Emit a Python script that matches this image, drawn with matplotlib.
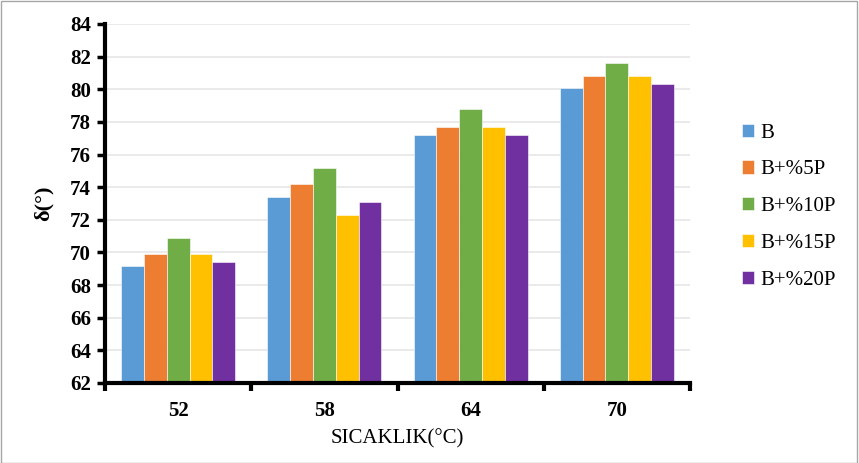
import numpy as np
import matplotlib
matplotlib.use("Agg")
import matplotlib.pyplot as plt
from matplotlib.patches import Rectangle

temperatures = ["52", "58", "64", "70"]
series_names = ["B", "B+%5P", "B+%10P", "B+%15P", "B+%20P"]
vals_b = [69.2, 73.4, 77.2, 80.1]
vals_5p = [69.9, 74.2, 77.7, 80.8]
vals_10p = [70.9, 75.2, 78.8, 81.6]
vals_15p = [69.9, 72.3, 77.7, 80.8]
vals_20p = [69.4, 73.1, 77.2, 80.3]
colors = ["#5B9BD5", "#ED7D31", "#70AD47", "#FFC000", "#7030A0"]

plt.rcParams["font.family"] = ["Liberation Serif", "DejaVu Serif"]

fig = plt.figure(figsize=(8.59, 4.63), dpi=100)
ax = fig.add_axes([105 / 859, 1 - 383 / 463, 585 / 859, 359 / 463])

series = [vals_b, vals_5p, vals_10p, vals_15p, vals_20p]
x = np.arange(len(temperatures))
bw = 0.156
offsets = (np.arange(5) - 2) * bw
for vals, name, c, off in zip(series, series_names, colors, offsets):
    ax.bar(x + off, vals, width=bw, color=c, label=name, zorder=3,
           edgecolor="white", linewidth=0.4)

ax.set_ylim(62, 84)
ax.set_yticks(np.arange(62, 85, 2))
ax.set_xlim(-0.5, len(temperatures) - 0.5)
ax.set_xticks(x)
ax.set_xticklabels(temperatures)
ax.set_xticks(np.arange(-0.5, len(temperatures), 1), minor=True)
ax.tick_params(axis="x", which="major", length=0, pad=13, labelsize=15)
ax.tick_params(axis="x", which="minor", length=6, width=3, direction="out")
ax.tick_params(axis="y", length=6, width=2.5, direction="out", labelsize=15, pad=4)
for lab in ax.get_xticklabels() + ax.get_yticklabels():
    lab.set_fontweight("bold")

ax.grid(axis="y", color="#E6E6E6", linewidth=1.2, zorder=0)
for side in ["top", "right"]:
    ax.spines[side].set_visible(False)
for side in ["left", "bottom"]:
    ax.spines[side].set_linewidth(3)
    ax.spines[side].set_zorder(4)

ax.set_xlabel("SICAKLIK(°C)", fontsize=15, labelpad=6)
ax.set_ylabel("δ(°)", fontsize=16, fontweight="bold", labelpad=12)

leg = ax.legend(loc="upper left", bbox_to_anchor=(723 / 859, 1 - 105 / 463),
                bbox_transform=fig.transFigure, frameon=False, fontsize=15,
                handlelength=0.6, handleheight=0.6, handletextpad=0.3,
                labelspacing=0.85)

fig.patches.append(Rectangle((0.001, 0.001), 0.997, 0.997, transform=fig.transFigure,
                             fill=False, edgecolor="#A6A6A6", linewidth=1))

fig.savefig("out.png", dpi=100)
